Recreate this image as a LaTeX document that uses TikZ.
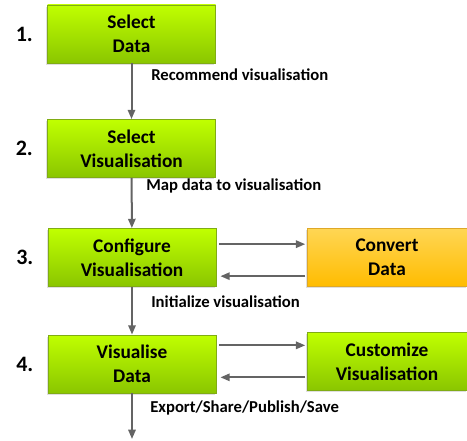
\documentclass[tikz,border=0pt]{standalone}
\usepackage{fontspec}
\setmainfont{Carlito}
\definecolor{etapehaut}{RGB}{192,255,0}
\definecolor{etapebas}{RGB}{138,198,0}
\definecolor{etapebord}{RGB}{128,172,20}
\definecolor{annexehaut}{RGB}{255,214,84}
\definecolor{annexebas}{RGB}{255,188,0}
\definecolor{annexebord}{RGB}{222,168,40}
\definecolor{fleche}{RGB}{100,100,100}
\usepackage{tikz}
\usetikzlibrary{positioning,calc,arrows.meta,shadows}

\begin{document}
\begin{tikzpicture}[x=0.75pt, y=-0.75pt,
    etape/.style={draw=etapebord, line width=0.6pt,
      top color=etapehaut, bottom color=etapebas,
      minimum width=126pt, minimum height=43.5pt, inner sep=2pt,
      align=center, font=\bfseries\fontsize{14.5}{18}\selectfont,
      drop shadow={shadow xshift=-1pt, shadow yshift=-1.2pt, opacity=0.25}},
    annexe/.style={etape, minimum width=120pt},
    conversion/.style={annexe, draw=annexebord,
      top color=annexehaut, bottom color=annexebas},
    numero/.style={inner sep=0pt, font=\bfseries\fontsize{16.5}{18}\selectfont},
    legende/.style={anchor=west, inner sep=0pt,
      font=\bfseries\fontsize{12.5}{14}\selectfont},
    fl/.style={draw=fleche, line width=1.5pt,
      -{Triangle[length=7pt, width=5.5pt]}}]
  \useasboundingbox (0,0) rectangle (467,441);

  % Colonne principale : les quatre etapes
  \node[etape] (selection) at (131.5,34) {Select\\Data};
  \node[etape] (choix) at (131.5,148.5) {Select\\Visualisation};
  \node[etape] (config) at (132,257.5) {Configure\\Visualisation};
  \node[etape] (rendu) at (132,364) {Visualise\\Data};
  \coordinate (fin) at (132,439);

  % Numeros des etapes
  \node[numero, left=10.5pt of selection] (n1) {1.};
  \node[numero, left=10.5pt of choix] (n2) {2.};
  \node[numero, left=10.5pt of config] (n3) {3.};
  \node[numero, left=10.5pt of rendu] (n4) {4.};

  % Etapes annexes a droite
  \node[conversion] (conversion) at (387,257.5) {Convert\\Data};
  \node[annexe] (reglage) at (387,361.5) {Customize\\Visualisation};

  % Enchainement vertical
  \draw[fl] (selection) -- (choix);
  \draw[fl] (choix) -- (config);
  \draw[fl] (config) -- (rendu);
  \draw[fl] (rendu) -- (fin);

  % Allers-retours avec les annexes
  \draw[fl, shorten <=2pt, shorten >=1pt]
    ([yshift=10pt]config.east) -- ([yshift=10pt]config.east -| conversion.west);
  \draw[fl, shorten <=1pt, shorten >=3pt]
    ([yshift=-14pt]config.east -| conversion.west) -- ([yshift=-14pt]config.east);
  \draw[fl, shorten <=2pt, shorten >=1pt]
    ([yshift=14pt]rendu.east) -- ([yshift=14pt]rendu.east -| reglage.west);
  \draw[fl, shorten <=1pt, shorten >=3pt]
    ([yshift=-10pt]rendu.east -| reglage.west) -- ([yshift=-10pt]rendu.east);

  % Legendes des transitions
  \node[legende] (l1) at (151,75) {Recommend visualisation};
  \node[legende] (l2) at (146,186) {Map data to visualisation};
  \node[legende] (l3) at (151,302) {Initialize visualisation};
  \node[legende] (l4) at (150,408) {Export/Share/Publish/Save};
\end{tikzpicture}
\end{document}
